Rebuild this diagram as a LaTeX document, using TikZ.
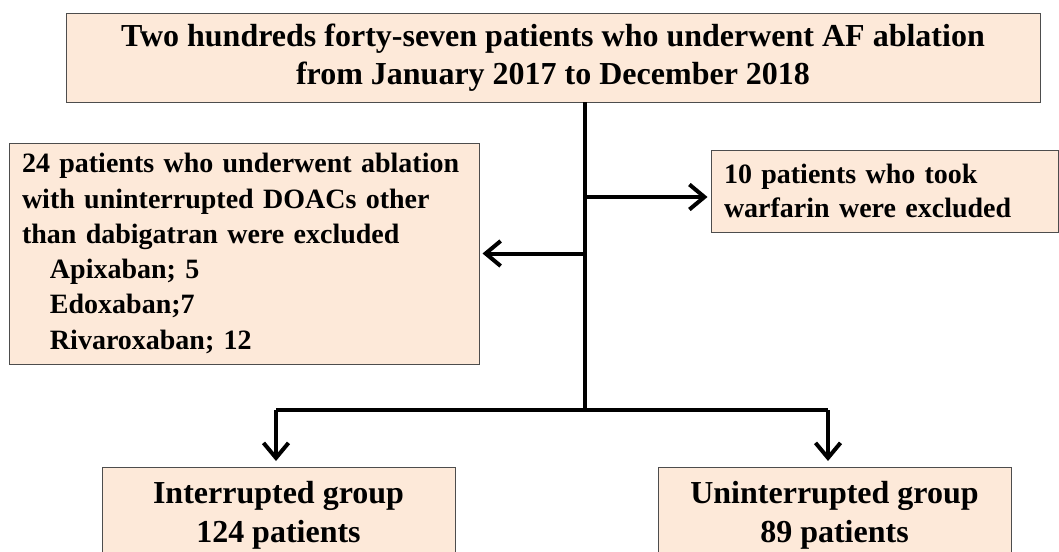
\documentclass[tikz,border=0pt]{standalone}
\usepackage{fontspec}
\setmainfont{Liberation Serif}
\usepackage{tikz}
\usetikzlibrary{arrows.meta,positioning}

\definecolor{peach}{HTML}{FDE9D9}
\definecolor{boxline}{HTML}{4D4D4D}

\begin{document}
\begin{tikzpicture}[
    x=1pt, y=-1pt,
    box/.style={rectangle, draw=boxline, line width=1pt, fill=peach, inner sep=0pt, font=\bfseries},
    link/.style={line width=4pt},
    arrow/.style={line width=4pt, -{Straight Barb[length=15pt,width=25pt]}, shorten >=3pt},
]
\clip (0,0) rectangle (1059,551);

% Top: all patients
\node[box, minimum width=974pt, minimum height=88pt, align=center,
      font=\bfseries\fontsize{32}{38}\selectfont] (allpts) at (553,58)
  {Two hundreds forty-seven patients who underwent AF ablation\\from January 2017 to December 2018};

% Exclusions
\node[box, minimum width=470pt, minimum height=221pt, text width=444pt, align=left,
      font=\bfseries\fontsize{28}{35.3}\selectfont] (doacs) at (244,253.5)
  {24 patients who underwent ablation\\with uninterrupted DOACs other\\than dabigatran were excluded\\
   \hspace*{28pt}Apixaban; 5\\\hspace*{28pt}Edoxaban;7\\\hspace*{28pt}Rivaroxaban; 12};
\node[box, minimum width=347pt, minimum height=82pt, text width=321pt, align=left,
      font=\bfseries\fontsize{28}{34}\selectfont] (warfarin) at (884.5,191)
  {10 patients who took\\warfarin were excluded};

% Groups
\node[box, anchor=north, minimum width=353pt, minimum height=95pt, align=center,
      font=\bfseries\fontsize{32}{39}\selectfont] (interrupted) at (278.5,467)
  {Interrupted group\\124 patients};
\node[box, anchor=north, minimum width=353pt, minimum height=95pt, align=center,
      font=\bfseries\fontsize{32}{39}\selectfont] (uninterrupted) at (834.5,467)
  {Uninterrupted group\\89 patients};

% Connectors
\coordinate (trunk) at (585,102);
\coordinate (split) at (585,410);
\coordinate (warfin) at ([yshift=-6pt]warfarin.west);
\coordinate (intin) at ([xshift=-2.5pt]interrupted.north);
\coordinate (unintin) at ([xshift=-6.5pt]uninterrupted.north);
\draw[link] (trunk) -- (split);
\draw[arrow] (trunk |- warfin) -- (warfin);
\draw[arrow] (trunk |- doacs.east) -- (doacs.east);
\draw[link] (intin |- split) -- (unintin |- split);
\draw[arrow, shorten >=6pt] (intin |- split) -- (intin);
\draw[arrow, shorten >=6pt] (unintin |- split) -- (unintin);

\end{tikzpicture}
\end{document}
